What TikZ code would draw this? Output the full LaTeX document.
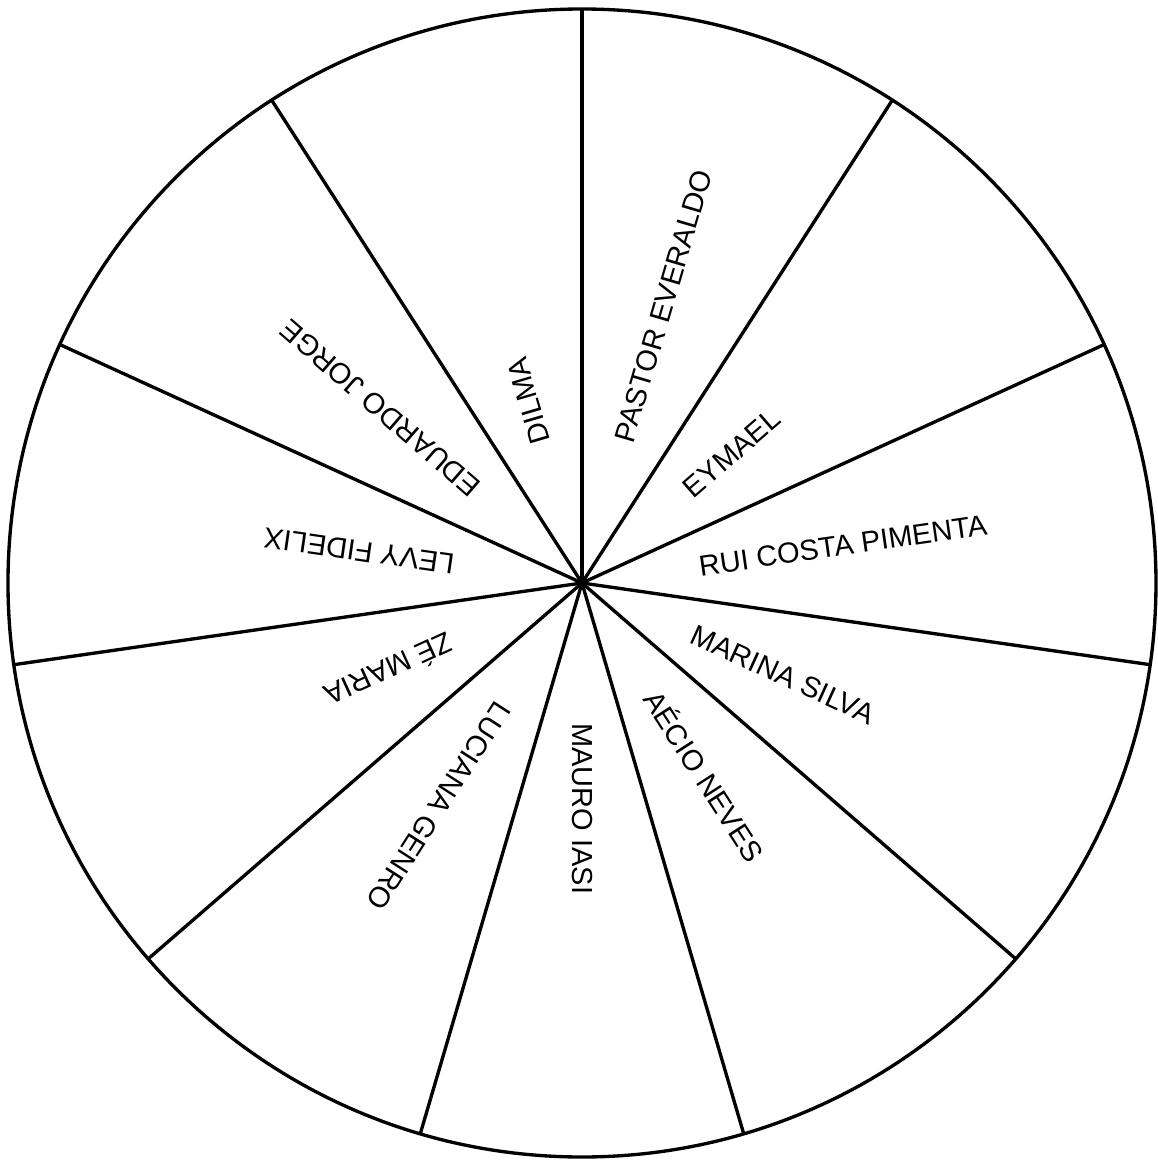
\documentclass[tikz,border=0pt]{standalone}
\usepackage{fontspec}
\setmainfont{Liberation Sans}
\usetikzlibrary{calc}
\tikzset{
  raio/.style={line width=1.9pt},
  candidato/.style={anchor=west, inner sep=0pt, font=\fontsize{16.5}{20}\selectfont},
}
\begin{document}
\begin{tikzpicture}
  \useasboundingbox (-11.64,-11.54) rectangle (11.52,11.66);
  \coordinate (centro) at (0,0);
  % roda
  \draw[raio] (centro) circle (11.48);
  \foreach \k in {0,...,10}{
    \coordinate (borda\k) at ({90-\k*360/11}:11.48);
    \draw[raio] (centro) -- (borda\k);
  }
  % nomes (texto / distancia do centro)
  \foreach \nome/\dist [count=\k from 0] in {PASTOR EVERALDO/2.94, EYMAEL/2.78,
      RUI COSTA PIMENTA/2.36, MARINA SILVA/2.42, AÉCIO NEVES/2.6,
      MAURO IASI/2.8, LUCIANA GENRO/2.9, ZÉ MARIA/2.86,
      LEVY FIDELIX/2.58, EDUARDO JORGE/2.8, DILMA/2.9}{
    \node[candidato, rotate={90-(\k+0.5)*360/11}] (nome\k)
      at ({90-(\k+0.5)*360/11}:\dist) {\nome};
  }
\end{tikzpicture}
\end{document}
